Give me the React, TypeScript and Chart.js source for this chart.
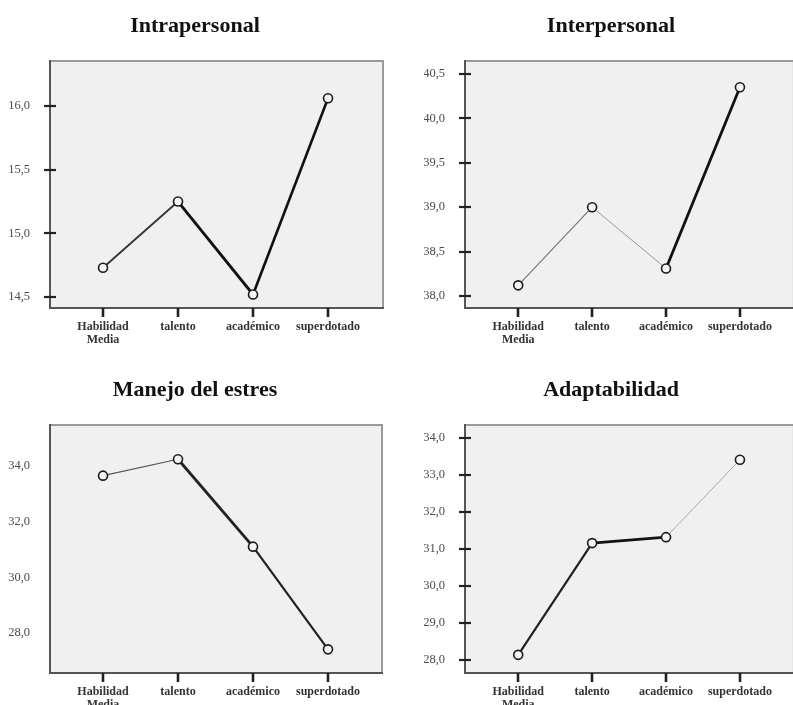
import React, { useEffect, useRef } from 'react';
import { Chart, registerables } from 'chart.js';

Chart.register(...registerables);

// ---- data ----
const categories: (string | string[])[] = [['Habilidad', 'Media'], 'talento', 'académico', 'superdotado'];

const intrapersonalValues = [14.73, 15.25, 14.52, 16.06];
const interpersonalValues = [38.12, 39.0, 38.31, 40.35];
const estresValues = [33.65, 34.24, 31.1, 27.41];
const adaptabilidadValues = [28.14, 31.16, 31.32, 33.41];

const intrapersonalTicks = [14.5, 15.0, 15.5, 16.0];
const interpersonalTicks = [38.0, 38.5, 39.0, 39.5, 40.0, 40.5];
const estresTicks = [28.0, 30.0, 32.0, 34.0];
const adaptabilidadTicks = [28.0, 29.0, 30.0, 31.0, 32.0, 33.0, 34.0];

const SERIF = "'Liberation Serif', 'Times New Roman', 'DejaVu Serif', serif";

type PanelCfg = {
  title: string;
  values: number[];
  ticks: number[];
  yMin: number;
  yMax: number;
  xMin: number;
  xMax: number;
  left: number;
  top: number;
  width: number;
  height: number;
  padLeft: number;
  padRight: number;
  yWidth: number;
  xHeight: number;
  titleTop: number;
  titleBottom: number;
  yTickMarks: boolean;
  segWidths: number[];
  segColors: string[];
};

const panels: PanelCfg[] = [
  {
    title: 'Intrapersonal', values: intrapersonalValues, ticks: intrapersonalTicks,
    yMin: 14.414, yMax: 16.353, xMin: -0.707, xMax: 3.733,
    left: 0, top: 0, width: 396, height: 350,
    padLeft: 7, padRight: 13, yWidth: 43, xHeight: 42,
    titleTop: 13, titleBottom: 21.6, yTickMarks: true,
    segWidths: [1.8, 2.8, 2.6], segColors: ['#333', '#111', '#111'],
  },
  {
    title: 'Interpersonal', values: interpersonalValues, ticks: interpersonalTicks,
    yMin: 37.865, yMax: 40.646, xMin: -0.72, xMax: 3.73,
    left: 396, top: 0, width: 404, height: 350,
    padLeft: 28, padRight: 2, yWidth: 41, xHeight: 42,
    titleTop: 13, titleBottom: 21.6, yTickMarks: true,
    segWidths: [1.2, 1, 2.8], segColors: ['#777', '#999', '#111'],
  },
  {
    title: 'Manejo del estres', values: estresValues, ticks: estresTicks,
    yMin: 26.56, yMax: 35.47, xMin: -0.707, xMax: 3.72,
    left: 0, top: 350, width: 396, height: 355,
    padLeft: 8, padRight: 14, yWidth: 42, xHeight: 32,
    titleTop: 26.8, titleBottom: 21.8, yTickMarks: false,
    segWidths: [1.2, 2.8, 2.2], segColors: ['#555', '#222', '#222'],
  },
  {
    title: 'Adaptabilidad', values: adaptabilidadValues, ticks: adaptabilidadTicks,
    yMin: 27.65, yMax: 34.35, xMin: -0.72, xMax: 3.73,
    left: 396, top: 350, width: 404, height: 355,
    padLeft: 28, padRight: 2, yWidth: 41, xHeight: 32,
    titleTop: 26.8, titleBottom: 21.8, yTickMarks: true,
    segWidths: [2.2, 2.8, 1], segColors: ['#222', '#111', '#aaa'],
  },
];

const framePlugin = {
  id: 'frame',
  beforeDatasetsDraw(chart: any, _args: any, opts: any) {
    const { ctx, chartArea: a, scales } = chart;
    ctx.save();
    ctx.fillStyle = '#f0f0f0';
    ctx.fillRect(a.left, a.top, a.right - a.left, a.bottom - a.top);
    // border
    ctx.lineWidth = 2;
    ctx.strokeStyle = '#9a9a9a';
    ctx.strokeRect(a.left, a.top, a.right - a.left, a.bottom - a.top);
    ctx.strokeStyle = '#555';
    ctx.beginPath();
    ctx.moveTo(a.left, a.top - 1);
    ctx.lineTo(a.left, a.bottom);
    ctx.lineTo(a.right + 1, a.bottom);
    ctx.stroke();
    // tick marks
    ctx.strokeStyle = '#222';
    ctx.lineWidth = 2.2;
    if (opts && opts.yTicks) {
      for (const t of scales.y.ticks) {
        const y = Math.round(scales.y.getPixelForValue(t.value));
        ctx.beginPath();
        ctx.moveTo(a.left - 6, y);
        ctx.lineTo(a.left + 6, y);
        ctx.stroke();
      }
    }
    ctx.lineWidth = 2.6;
    for (const t of scales.x.ticks) {
      const x = Math.round(scales.x.getPixelForValue(t.value));
      ctx.beginPath();
      ctx.moveTo(x, a.bottom);
      ctx.lineTo(x, a.bottom + 9);
      ctx.stroke();
    }
    ctx.restore();
  },
};

function Panel({ cfg }: { cfg: PanelCfg }) {
  const ref = useRef<HTMLCanvasElement | null>(null);
  useEffect(() => {
    if (!ref.current) return;
    const chart = new Chart(ref.current, {
      type: 'line',
      data: {
        datasets: [
          {
            data: cfg.values.map((v, i) => ({ x: i, y: v })),
            borderColor: '#111',
            borderWidth: 2,
            tension: 0,
            pointRadius: 4.5,
            pointBorderWidth: 1.6,
            pointBackgroundColor: '#f4f4f4',
            pointBorderColor: '#1a1a1a',
            segment: {
              borderWidth: (c: any) => cfg.segWidths[c.p0DataIndex],
              borderColor: (c: any) => cfg.segColors[c.p0DataIndex],
            },
          } as any,
        ],
      },
      options: {
        animation: false,
        responsive: false,
        devicePixelRatio: 1,
        layout: { padding: { left: cfg.padLeft, right: cfg.padRight, top: 0, bottom: 0 } },
        plugins: {
          legend: { display: false },
          tooltip: { enabled: false },
          title: {
            display: true,
            text: cfg.title,
            color: '#111',
            font: { family: SERIF, size: 22, weight: 'bold', lineHeight: 1.2 },
            padding: { top: cfg.titleTop, bottom: cfg.titleBottom },
          },
          frame: { yTicks: cfg.yTickMarks },
        } as any,
        scales: {
          x: {
            type: 'linear',
            min: cfg.xMin,
            max: cfg.xMax,
            grid: { display: false },
            border: { display: false },
            afterBuildTicks: (s: any) => {
              s.ticks = categories.map((_, i) => ({ value: i }));
            },
            afterFit: (s: any) => {
              s.height = cfg.xHeight;
            },
            ticks: {
              autoSkip: false,
              maxRotation: 0,
              padding: 4,
              color: '#333',
              font: { family: SERIF, size: 12, weight: 'bold', lineHeight: 1.1 },
              callback: (v: any) => categories[Math.round(Number(v))] as any,
            },
          },
          y: {
            type: 'linear',
            min: cfg.yMin,
            max: cfg.yMax,
            grid: { display: false },
            border: { display: false },
            afterBuildTicks: (s: any) => {
              s.ticks = cfg.ticks.map((v) => ({ value: v }));
            },
            afterFit: (s: any) => {
              s.width = cfg.yWidth;
            },
            ticks: {
              padding: 12,
              color: '#4a4a58',
              font: { family: SERIF, size: 12.5 },
              callback: (v: any) => Number(v).toFixed(1).replace('.', ','),
            },
          },
        },
      } as any,
      plugins: [framePlugin as any],
    });
    return () => chart.destroy();
  }, [cfg]);
  return (
    <canvas
      ref={ref}
      width={cfg.width}
      height={cfg.height}
      style={{ position: 'absolute', left: cfg.left, top: cfg.top, width: cfg.width, height: cfg.height }}
    />
  );
}

export default function App() {
  return (
    <div
      style={{
        position: 'absolute',
        left: 0,
        top: 0,
        width: 793,
        height: 705,
        overflow: 'hidden',
        background: '#fff',
      }}
    >
      {panels.map((p) => (
        <Panel key={p.title} cfg={p} />
      ))}
    </div>
  );
}
